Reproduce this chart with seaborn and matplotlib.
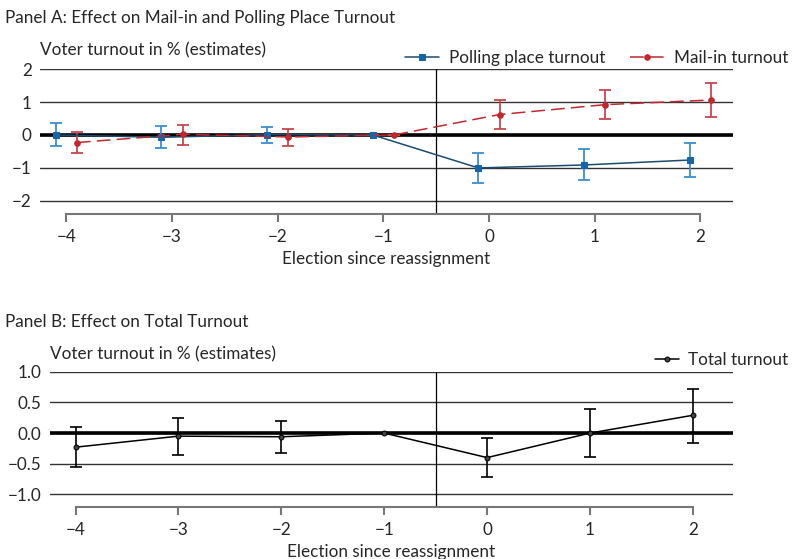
import numpy as np
import pandas as pd
import seaborn as sns
import matplotlib.pyplot as plt

# election relative to reassignment
elections = [-4, -3, -2, -1, 0, 1, 2]

# panel A estimates (percentage points) and 95% bounds
polling_est = [0.00, -0.07, 0.01, 0.00, -1.00, -0.91, -0.76]
polling_lo = [-0.34, -0.40, -0.24, 0.00, -1.47, -1.38, -1.28]
polling_hi = [0.36, 0.28, 0.24, 0.00, -0.55, -0.44, -0.25]

mail_est = [-0.23, 0.02, -0.06, 0.00, 0.62, 0.92, 1.06]
mail_lo = [-0.56, -0.30, -0.32, 0.00, 0.18, 0.47, 0.54]
mail_hi = [0.08, 0.31, 0.19, 0.00, 1.06, 1.37, 1.58]

# panel B
total_est = [-0.23, -0.05, -0.06, 0.00, -0.40, 0.00, 0.29]
total_lo = [-0.56, -0.36, -0.33, 0.00, -0.72, -0.39, -0.16]
total_hi = [0.10, 0.25, 0.19, 0.00, -0.08, 0.40, 0.72]

sns.set_theme(style="white")
plt.rcParams['font.family'] = ['Lato', 'DejaVu Sans']
FS = 12.3

BLUE = '#1565a8'
BLUE_ERR = '#3a8fd0'
NAVY = '#1d4a70'
RED = '#c0282d'
RED_ERR = '#c9474c'

fig = plt.figure(figsize=(7.92, 5.59), dpi=100)
ax1 = fig.add_axes([0.0505, 0.617, 0.875, 0.2595])
ax2 = fig.add_axes([0.063, 0.0936, 0.8625, 0.2414])

x = np.array(elections, dtype=float)
dfA = pd.DataFrame({
    'x': np.concatenate([x - 0.1, x + 0.1]),
    'est': polling_est + mail_est,
    'series': ['Polling place turnout'] * 7 + ['Mail-in turnout'] * 7,
})
dfB = pd.DataFrame({'x': x, 'est': total_est, 'series': 'Total turnout'})


def style_axis(ax, yticks, ylim, xlim, fmt):
    ax.set_xlim(*xlim)
    ax.set_ylim(*ylim)
    for yt in yticks:
        ax.axhline(yt, color='#333333', lw=1.0, zorder=0)
    ax.axhline(0, color='black', lw=2.6, zorder=1)
    ax.axvline(-0.5, color='black', lw=0.9, zorder=1)
    ax.set_yticks(yticks)
    ax.set_yticklabels([fmt(v) for v in yticks], fontsize=FS)
    ax.set_xticks(elections)
    ax.set_xticklabels([str(v).replace('-', '\u2212') for v in elections], fontsize=FS)
    for s in ['top', 'right', 'left']:
        ax.spines[s].set_visible(False)
    ax.spines['bottom'].set_bounds(elections[0], elections[-1])
    ax.spines['bottom'].set_color('#777777')
    ax.spines['bottom'].set_linewidth(1.5)
    ax.tick_params(axis='x', bottom=True, direction='out', length=6, width=1.5,
                   color='#777777', pad=5)
    ax.tick_params(axis='y', left=False, length=0, pad=6)
    ax.set_xlabel('Election since reassignment', fontsize=FS, labelpad=4)
    ax.set_ylabel('')


# Panel A
sns.lineplot(data=dfA[dfA.series == 'Polling place turnout'], x='x', y='est', ax=ax1,
             color=NAVY, lw=1.1, marker='s', markersize=4.5, markerfacecolor=BLUE,
             markeredgecolor=BLUE, label='Polling place turnout', zorder=3)
sns.lineplot(data=dfA[dfA.series == 'Mail-in turnout'], x='x', y='est', ax=ax1,
             color=RED, lw=1.1, dashes=(9, 4), marker='o', markersize=4,
             markerfacecolor=RED, markeredgecolor=RED, label='Mail-in turnout', zorder=3)
pe = np.array(polling_est)
me = np.array(mail_est)
ax1.errorbar(x - 0.1, pe, yerr=[pe - np.array(polling_lo), np.array(polling_hi) - pe],
             fmt='none', ecolor=BLUE_ERR, elinewidth=1.3, capsize=4, capthick=1.3, zorder=2)
ax1.errorbar(x + 0.1, me, yerr=[me - np.array(mail_lo), np.array(mail_hi) - me],
             fmt='none', ecolor=RED_ERR, elinewidth=1.3, capsize=4, capthick=1.3, zorder=2)
style_axis(ax1, [-2, -1, 0, 1, 2], (-2.4, 2.0), (-4.25, 2.31),
           lambda v: str(v).replace('-', '\u2212'))
ax1.legend(loc='lower right', bbox_to_anchor=(1.08, 1.02), ncol=2, frameon=False,
           fontsize=FS, handlelength=2.0, handletextpad=0.6, columnspacing=1.4,
           borderaxespad=0, borderpad=0)
ax1.text(-0.0, 1.07, 'Voter turnout in % (estimates)', transform=ax1.transAxes,
         fontsize=FS, ha='left', va='bottom')

# Panel B
sns.lineplot(data=dfB, x='x', y='est', ax=ax2, color='black', lw=1.1, marker='o',
             markersize=3.5, markerfacecolor='#444444', markeredgecolor='black',
             label='Total turnout', zorder=3)
te = np.array(total_est)
ax2.errorbar(x, te, yerr=[te - np.array(total_lo), np.array(total_hi) - te],
             fmt='none', ecolor='black', elinewidth=1.2, capsize=4, capthick=1.2, zorder=2)
style_axis(ax2, [-1.0, -0.5, 0.0, 0.5, 1.0], (-1.2, 1.0), (-4.25, 2.39),
           lambda v: f'{v:.1f}'.replace('-', '\u2212'))
ax2.legend(loc='lower right', bbox_to_anchor=(1.08, 1.03), frameon=False,
           fontsize=FS, handlelength=1.4, handletextpad=0.5, borderaxespad=0, borderpad=0)
ax2.text(-0.0, 1.07, 'Voter turnout in % (estimates)', transform=ax2.transAxes,
         fontsize=FS, ha='left', va='bottom')

fig.text(0.006, 0.967, 'Panel A: Effect on Mail-in and Polling Place Turnout',
         fontsize=FS, ha='left', va='center')
fig.text(0.006, 0.424, 'Panel B: Effect on Total Turnout',
         fontsize=FS, ha='left', va='center')

fig.savefig('out.png', dpi=100)
